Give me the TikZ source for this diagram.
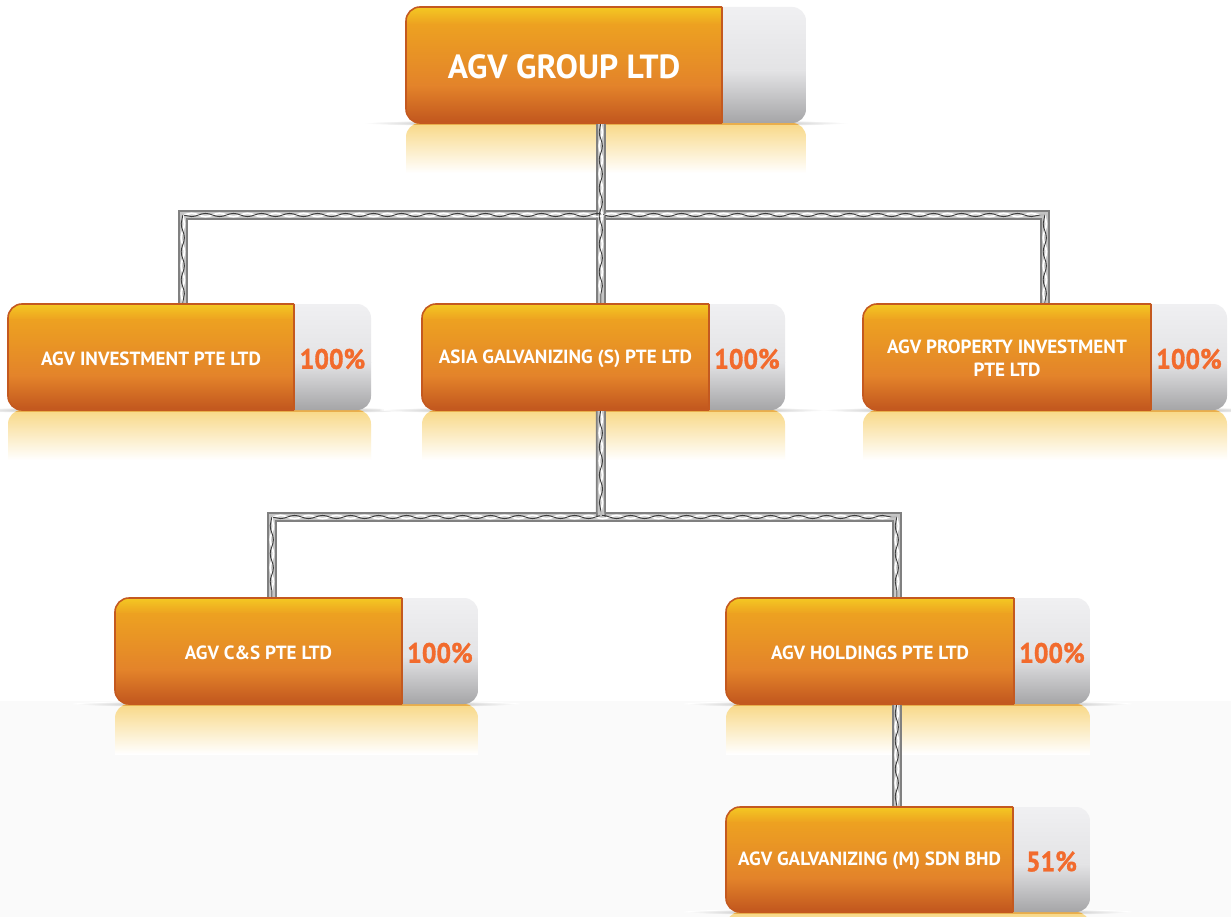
\documentclass[tikz,border=0pt]{standalone}
\usepackage{fontspec}
\setmainfont{PT Sans}
\newfontfamily\pctfont{PT Sans Bold}[FakeStretch=0.92,FakeBold=1.2]
\newfontfamily\lblfontfam{PT Sans Bold}
\usetikzlibrary{calc,fit,decorations.pathmorphing}
\definecolor{oTop}{HTML}{F4C822}
\definecolor{oMidA}{HTML}{EDA121}
\definecolor{oMidB}{HTML}{E3832A}
\definecolor{oBot}{HTML}{C1561E}
\definecolor{oLine}{HTML}{C4591F}
\definecolor{gTop}{HTML}{F0F0F2}
\definecolor{gMid}{HTML}{E3E3E5}
\definecolor{gBot}{HTML}{A5A5A7}
\definecolor{pctc}{HTML}{F26B2D}
\definecolor{bgc}{HTML}{FAFAFA}
\definecolor{reflT}{HTML}{F8D886}
\definecolor{reflL}{HTML}{E9AE4C}
\definecolor{cabOut}{HTML}{808080}
\definecolor{cabMid}{HTML}{C4C4C4}
\definecolor{cabDk}{HTML}{3C3C3C}
\pgfdeclarelayer{bgl}
\pgfdeclarelayer{refl}
\pgfdeclarelayer{cab}
\pgfsetlayers{bgl,refl,cab,main}
\tikzset{
  lbl/.style={text=white, font=\lblfontfam\fontsize{19.1}{23}\selectfont, align=center, inner sep=0pt},
  biglbl/.style={text=white, font=\lblfontfam\fontsize{33.5}{36}\selectfont, align=center, inner sep=0pt},
  pcts/.style={text=pctc, font=\pctfont\fontsize{28}{30}\selectfont, inner sep=0pt},
  cable/.style={line width=10pt, draw=cabOut, line join=miter,
    postaction={draw=cabMid, line width=6.5pt}},
  strand/.style={
    postaction={decorate, decoration={snake, amplitude=1.6pt, segment length=28pt}, draw=white, line width=1.8pt},
    postaction={decorate, decoration={snake, amplitude=-1.6pt, segment length=28pt}, draw=cabDk, line width=0.9pt}},
  boxfit/.style={inner sep=0pt, draw=none}
}
% #1 name, #2 x1, #3 y1, #4 xd, #5 x2, #6 y2, #7 label, #8 pct, #9 label style
\newcommand\agvbox[9]{%
  \pgfmathsetmacro\yA{#3+0.15*(#6-#3)}%
  \pgfmathsetmacro\yB{#3+0.68*(#6-#3)}%
  \pgfmathsetmacro\yG{#3+0.55*(#6-#3)}%
  \begin{pgfonlayer}{refl}
    \shade[inner color=black!70, outer color=white] ({(#2+#5)/2},#6) ellipse ({(#5-#2)/2+42} and 4);
    \begin{scope}
      \clip[rounded corners=14pt] (#2,#6) rectangle (#5,#6+80);
      \shade[top color=reflT, bottom color=white] (#2,#6) rectangle (#5,#6+50);
      \fill[reflL] (#2,#6) rectangle (#5,#6+2);
    \end{scope}
  \end{pgfonlayer}
  \begin{scope}
    \clip[rounded corners=14pt] (#2,#3) rectangle (#5,#6);
    \shade[top color=oTop, bottom color=oMidA] (#2,#3) rectangle (#4,\yA);
    \shade[top color=oMidA, bottom color=oMidB] (#2,\yA-0.3) rectangle (#4,\yB);
    \shade[top color=oMidB, bottom color=oBot] (#2,\yB-0.3) rectangle (#4,#6);
    \shade[top color=gTop, bottom color=gMid] (#4,#3) rectangle (#5,\yG);
    \shade[top color=gMid, bottom color=gBot] (#4,\yG-0.3) rectangle (#5,#6);
  \end{scope}
  \draw[oLine, line width=1.6pt, rounded corners=14pt] (#4,#3) -- (#2,#3) -- (#2,#6) -- (#4,#6);
  \draw[oLine, line width=1.6pt] (#4,#3) -- (#4,#6);
  \node[boxfit, fit={(#2,#3) (#5,#6)}] (#1) {};
  \node[#9] (#1-t) at ({(#2+#4)/2},{(#3+#6)/2+1.5}) {#7};
  \if\relax\detokenize{#8}\relax\else
    \node[pcts] (#1-p) at ({(#4+#5)/2},{(#3+#6)/2+2}) {#8};
  \fi
}
\begin{document}
\begin{tikzpicture}[x=1pt,y=-1pt]
\useasboundingbox (0,0) rectangle (1231,917);
\begin{pgfonlayer}{bgl}
  \fill[white] (0,0) rectangle (1231,917);
  \fill[bgc] (0,701) rectangle (1231,917);
\end{pgfonlayer}

\agvbox{g}{406}{7}{722}{806}{123}{AGV GROUP LTD}{}{biglbl}
\agvbox{b1}{8}{304}{294}{371}{410}{AGV INVESTMENT PTE LTD}{100\%}{lbl}
\agvbox{b2}{422}{304}{709}{785}{410}{ASIA GALVANIZING (S) PTE LTD}{100\%}{lbl}
\agvbox{b3}{863}{304}{1151}{1227}{410}{AGV PROPERTY INVESTMENT\\PTE LTD}{100\%}{lbl}
\agvbox{b4}{115}{598}{402}{478}{704}{AGV C\&S PTE LTD}{100\%}{lbl}
\agvbox{b5}{726}{598}{1014}{1090}{704}{AGV HOLDINGS PTE LTD}{100\%}{lbl}
\agvbox{b6}{726}{807}{1013}{1090}{912}{AGV GALVANIZING (M) SDN BHD}{51\%}{lbl}

\coordinate (gs) at ($(g.south west)+(195,0)$);
\coordinate (b1n) at ($(b1.north west)+(175,0)$);
\coordinate (b2n) at ($(b2.north west)+(179,0)$);
\coordinate (b3n) at ($(b3.north west)+(182,0)$);
\coordinate (b2s) at ($(b2.south west)+(179,0)$);
\coordinate (b4n) at ($(b4.north west)+(157,0)$);
\coordinate (b5n) at ($(b5.north west)+(171,0)$);
\coordinate (b5s) at ($(b5.south west)+(171,0)$);
\coordinate (b6n) at ($(b6.north west)+(171,0)$);
\coordinate (bar1) at (601,215);
\coordinate (bar2) at (601,517);

\begin{pgfonlayer}{cab}
  \draw[cable] (b1n) -- (b1n |- bar1) -- (b3n |- bar1) -- (b3n);
  \draw[cable] (gs) -- (b2n);
  \draw[cable] (b4n) -- (b4n |- bar2) -- (b5n |- bar2) -- (b5n);
  \draw[cable] (b2s) -- (bar2);
  \draw[cable] (b5s) -- (b6n);
  \path[strand] (b1n |- bar1) -- (b3n |- bar1);
  \path[strand] (b1n |- bar1) -- (b1n);
  \path[strand] (b3n |- bar1) -- (b3n);
  \path[strand] (gs) -- (b2n);
  \path[strand] (b4n |- bar2) -- (b5n |- bar2);
  \path[strand] (b4n |- bar2) -- (b4n);
  \path[strand] (b5n |- bar2) -- (b5n);
  \path[strand] (b2s) -- (bar2);
  \path[strand] (b5s) -- (b6n);
\end{pgfonlayer}
\end{tikzpicture}
\end{document}
